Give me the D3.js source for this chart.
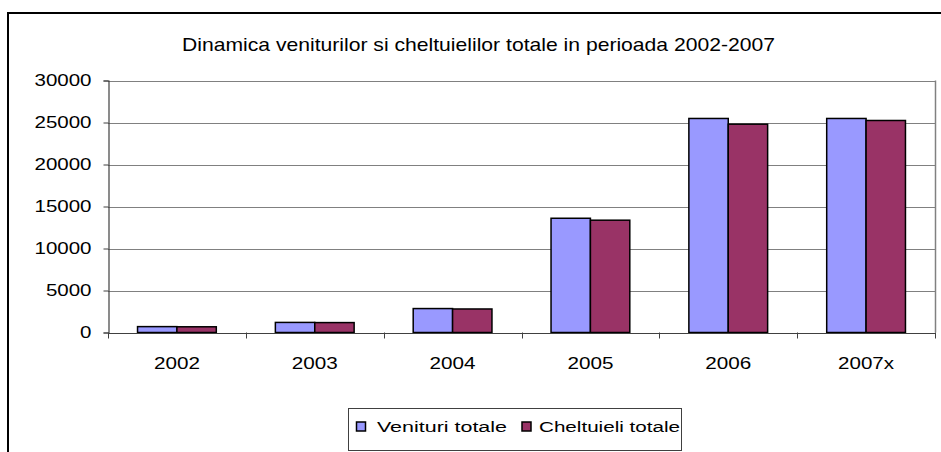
<!DOCTYPE html>
<html>
<head>
<meta charset="utf-8">
<script src="https://cdn.jsdelivr.net/npm/d3@7"></script>
<style>
  html, body { margin: 0; padding: 0; background: #fff; }
  svg { display: block; font-family: "Liberation Sans", Arial, sans-serif; }
</style>
</head>
<body>
<svg id="chart" width="941" height="452"></svg>
<script>
const title = "Dinamica veniturilor si cheltuielilor totale in perioada 2002-2007";
const categories = ["2002", "2003", "2004", "2005", "2006", "2007x"];
const seriesNames = ["Venituri totale", "Cheltuieli totale"];
const venituri = [700, 1200, 2850, 13600, 25480, 25480];
const cheltuieli = [680, 1180, 2800, 13370, 24800, 25240];
const yTicks = [0, 5000, 10000, 15000, 20000, 25000, 30000];
const colors = ["#9999FF", "#993366"];

const svg = d3.select("#chart");
const plot = { left: 108, right: 935, top: 80.5, bottom: 332.5 };

// outer frame (extends beyond the visible window on right/bottom)
svg.append("rect")
  .attr("x", 8).attr("y", 13).attr("width", 960).attr("height", 470)
  .attr("fill", "none").attr("stroke", "#000").attr("stroke-width", 2);

// title
svg.append("text")
  .attr("x", 182).attr("y", 51)
  .attr("font-size", 18.5)
  .attr("textLength", 593).attr("lengthAdjust", "spacingAndGlyphs")
  .attr("fill", "#000")
  .text(title);

const x0 = d3.scaleBand().domain(categories).range([plot.left, plot.right]).paddingInner(0).paddingOuter(0);
const y = d3.scaleLinear().domain([0, 30000]).range([plot.bottom, plot.top]);

// bar width = band/(2+1.5) (gap width 150%)
const barW = x0.bandwidth() / 3.5;
const barOffset = (x0.bandwidth() - 2 * barW) / 2;

// gridlines
svg.append("g").selectAll("line").data(yTicks.filter(d => d > 0)).join("line")
  .attr("x1", plot.left).attr("x2", plot.right)
  .attr("y1", d => Math.round(y(d)) + 0.5).attr("y2", d => Math.round(y(d)) + 0.5)
  .attr("stroke", "#808080").attr("stroke-width", 1);

// right border of plot area
svg.append("line")
  .attr("x1", plot.right + 0.5).attr("x2", plot.right + 0.5)
  .attr("y1", plot.top).attr("y2", plot.bottom)
  .attr("stroke", "#808080").attr("stroke-width", 1.5);

// bars
const data = categories.map((c, i) => ({ c, vals: [venituri[i], cheltuieli[i]] }));
const groups = svg.append("g").selectAll("g").data(data).join("g")
  .attr("transform", d => `translate(${x0(d.c) + barOffset},0)`);
groups.selectAll("rect").data(d => d.vals.map((v, j) => ({ v, j }))).join("rect")
  .attr("x", d => d.j * barW)
  .attr("width", barW)
  .attr("y", d => y(d.v))
  .attr("height", d => y(0) - y(d.v))
  .attr("fill", d => colors[d.j])
  .attr("stroke", "#000").attr("stroke-width", 1.5);

// y axis
const yAxis = d3.axisLeft(y).tickValues(yTicks).tickSize(5).tickPadding(12).tickFormat(d3.format("d"));
const gy = svg.append("g").attr("transform", `translate(${plot.left + 0.5},0)`).call(yAxis);
gy.select(".domain").attr("stroke", "#404040").attr("stroke-width", 1.2);
gy.selectAll(".tick line").attr("stroke", "#404040");
gy.selectAll(".tick text").attr("font-size", 16.5).attr("fill", "#000")
  .attr("font-family", "Liberation Sans, Arial, sans-serif")
  .each(function(d) {
    const s = String(d);
    d3.select(this).attr("textLength", s.length * 11.4).attr("lengthAdjust", "spacingAndGlyphs");
  });

// x axis
const xAxis = d3.axisBottom(x0).tickSize(0).tickPadding(24);
const gx = svg.append("g").attr("transform", `translate(0,${plot.bottom + 0.5})`).call(xAxis);
gx.select(".domain").attr("stroke", "#404040").attr("stroke-width", 1.2);
gx.selectAll(".tick text").attr("font-size", 16.5).attr("fill", "#000")
  .attr("font-family", "Liberation Sans, Arial, sans-serif")
  .each(function(d) {
    const s = String(d);
    const w = s === "2007x" ? 56 : 46;
    d3.select(this).attr("textLength", w).attr("lengthAdjust", "spacingAndGlyphs");
  });
// category separator ticks
const sepVals = d3.range(categories.length + 1).map(i => plot.left + i * x0.bandwidth());
svg.append("g").selectAll("line").data(sepVals).join("line")
  .attr("x1", d => Math.round(d) + 0.5).attr("x2", d => Math.round(d) + 0.5)
  .attr("y1", plot.bottom).attr("y2", plot.bottom + 6)
  .attr("stroke", "#404040").attr("stroke-width", 1);

// legend
const lg = svg.append("g");
lg.append("rect").attr("x", 348.5).attr("y", 408.5).attr("width", 333).attr("height", 42)
  .attr("fill", "#fff").attr("stroke", "#404040").attr("stroke-width", 1);
const legendItems = [
  { name: seriesNames[0], color: colors[0], mx: 356.5, tx: 377, tw: 130 },
  { name: seriesNames[1], color: colors[1], mx: 522, tx: 539, tw: 141 }
];
legendItems.forEach(it => {
  lg.append("rect").attr("x", it.mx).attr("y", 422).attr("width", 9).attr("height", 9)
    .attr("fill", it.color).attr("stroke", "#000").attr("stroke-width", 1.5);
  lg.append("text").attr("x", it.tx).attr("y", 432).attr("font-size", 15.5)
    .attr("textLength", it.tw).attr("lengthAdjust", "spacingAndGlyphs")
    .attr("fill", "#000").text(it.name);
});
</script>
</body>
</html>
